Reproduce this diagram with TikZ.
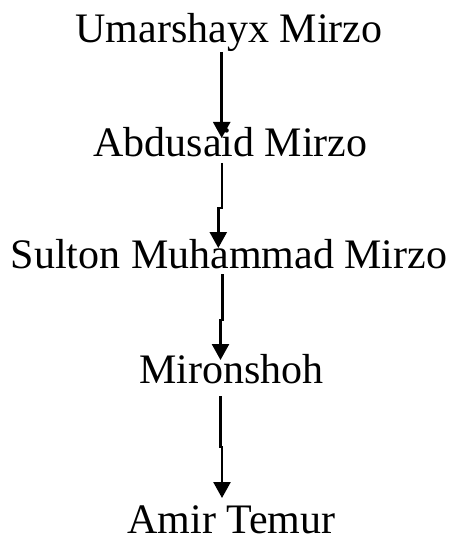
\documentclass[tikz,border=0pt]{standalone}
\usepackage{fontspec}
\setmainfont{Liberation Serif}
\usetikzlibrary{arrows.meta}
\begin{document}
\begin{tikzpicture}[x=1pt,y=-1pt,
  person/.style={inner sep=0pt,anchor=base,font=\fontsize{42}{50}\selectfont},
  arr/.style={line width=2.5pt,-{Triangle[width=17pt,length=16pt]}}]
\useasboundingbox (0,0) rectangle (454,548);
% names of the line, top to bottom
\node[person] (n1) at (229,43)  {Umarshayx Mirzo};
\node[person] (n2) at (230.5,157) {Abdusaid Mirzo};
\node[person] (n3) at (229,268) {Sulton Muhammad Mirzo};
\node[person] (n4) at (231.5,383) {Mironshoh};
\node[person] (n5) at (231.5,533) {Amir Temur};
% bend points of the connectors
\coordinate (a1) at (221.7,52);   \coordinate (b1) at (221.7,138);
\coordinate (a2) at (222,163);    \coordinate (m2) at (222,208);
\coordinate (k2) at (218.3,208);  \coordinate (b2) at (218.3,248);
\coordinate (a3) at (222.3,274);  \coordinate (m3) at (222.3,320);
\coordinate (k3) at (220.5,320);  \coordinate (b3) at (220.5,360);
\coordinate (a4) at (220.7,396);  \coordinate (m4) at (220.7,447);
\coordinate (k4) at (222,447);    \coordinate (b4) at (222,498);
\draw[arr] (a1) -- (b1);
\draw[arr] (a2) -- (m2) -- (k2) -- (b2);
\draw[arr] (a3) -- (m3) -- (k3) -- (b3);
\draw[arr] (a4) -- (m4) -- (k4) -- (b4);
\end{tikzpicture}
\end{document}
